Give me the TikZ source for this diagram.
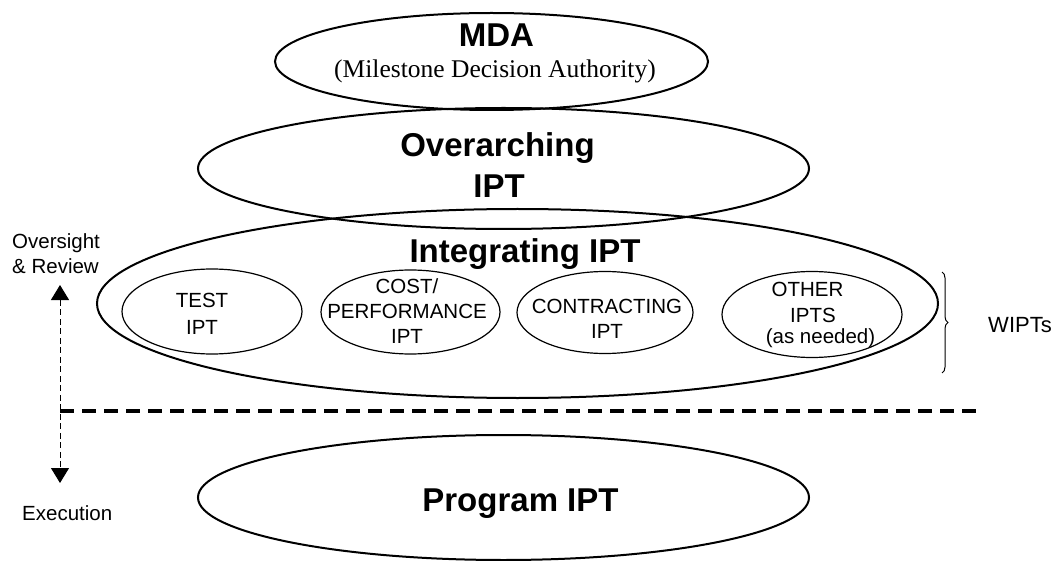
\documentclass[tikz,border=0pt]{standalone}
\usepackage{fontspec}
\setmainfont{Liberation Sans}
\newfontfamily\serifface{Liberation Serif}
\usetikzlibrary{shapes.geometric,arrows.meta,decorations.pathreplacing}

\begin{document}
\begin{tikzpicture}[x=1pt,y=-1pt,
  bigoval/.style={ellipse,draw,line width=2pt,inner sep=0pt},
  smalloval/.style={ellipse,draw,line width=1.2pt,inner sep=0pt},
  title/.style={font=\fontsize{33}{38}\selectfont\bfseries,anchor=base,inner sep=0pt},
  small/.style={font=\fontsize{20.5}{24}\selectfont,anchor=base,inner sep=0pt},
  side/.style={font=\fontsize{20.5}{24}\selectfont,anchor=base west,inner sep=0pt},
  tip/.tip={Triangle[width=18pt,length=15pt]},
]
\useasboundingbox (0,0) rectangle (1057,561);

% team ovals
\node[bigoval,minimum width=433pt,minimum height=97pt]  (mda)   at (491.5,61.5)  {};
\node[bigoval,minimum width=611pt,minimum height=121pt] (over)  at (503.5,168.5) {};
\node[bigoval,minimum width=841pt,minimum height=189pt] (integ) at (517.5,303.5) {};
\node[bigoval,minimum width=611pt,minimum height=125pt] (prog)  at (503.5,497.5) {};

% working-level IPTs
\node[smalloval,minimum width=180pt,minimum height=85pt] (test)  at (212,311.5) {};
\node[smalloval,minimum width=179pt,minimum height=84pt] (cost)  at (410.5,312) {};
\node[smalloval,minimum width=176pt,minimum height=82pt] (contr) at (605,312.5) {};
\node[smalloval,minimum width=180pt,minimum height=86pt] (other) at (812,314.5) {};

% titles
\node[title] (mdat) at (496.5,47) {MDA};
\node[anchor=base,inner sep=0pt,font=\serifface\fontsize{25.5}{30}\selectfont] (mdasub) at (495,78) {(Milestone Decision Authority)};
\node[title] (overa) at (497.5,157) {Overarching};
\node[title] (overb) at (499,198) {IPT};
\node[title] (integt) at (525,262) {Integrating IPT};
\node[title] (progt) at (520.5,511) {Program IPT};

% oval labels
\node[small] (testa) at (202,308) {TEST};
\node[small] (testb) at (202,334) {IPT};
\node[small] (costa) at (407,294) {COST/};
\node[small] (costb) at (407,318) {PERFORMANCE};
\node[small] (costc) at (407,343) {IPT};
\node[small] (contra) at (607,313) {CONTRACTING};
\node[small] (contrb) at (607,338) {IPT};
\node[small] (othera) at (807.5,297) {OTHER};
\node[small] (otherb) at (813,322) {IPTS};
\node[small] (otherc) at (820.5,343) {(as needed)};

% WIPT brace
\coordinate (brtop) at (942,272);
\coordinate (brbot) at (942,373);
\draw[line width=1pt,decorate,decoration={brace,amplitude=6pt}] (brtop) -- (brbot);
\node[font=\fontsize{22}{26}\selectfont,anchor=base,inner sep=0pt] (wipts) at (1020,332) {WIPTs};

% side labels and oversight/execution arrow
\node[side] (ova) at (12,249) {Oversight};
\node[side] (ovb) at (12,274) {\& Review};
\node[side] (exec) at (22,520) {Execution};
\coordinate (uptip) at (60,285);
\coordinate (downtip) at (60,483);
\draw[line width=1pt,dash pattern=on 6pt off 3.5pt,{tip}-{tip}] (uptip) -- (downtip);

% divider between oversight and execution
\coordinate (divL) at (60,411);
\coordinate (divR) at (983,411);
\draw[line width=3.6pt,dash pattern=on 14pt off 8pt] (divL) -- (divR);
\end{tikzpicture}
\end{document}
